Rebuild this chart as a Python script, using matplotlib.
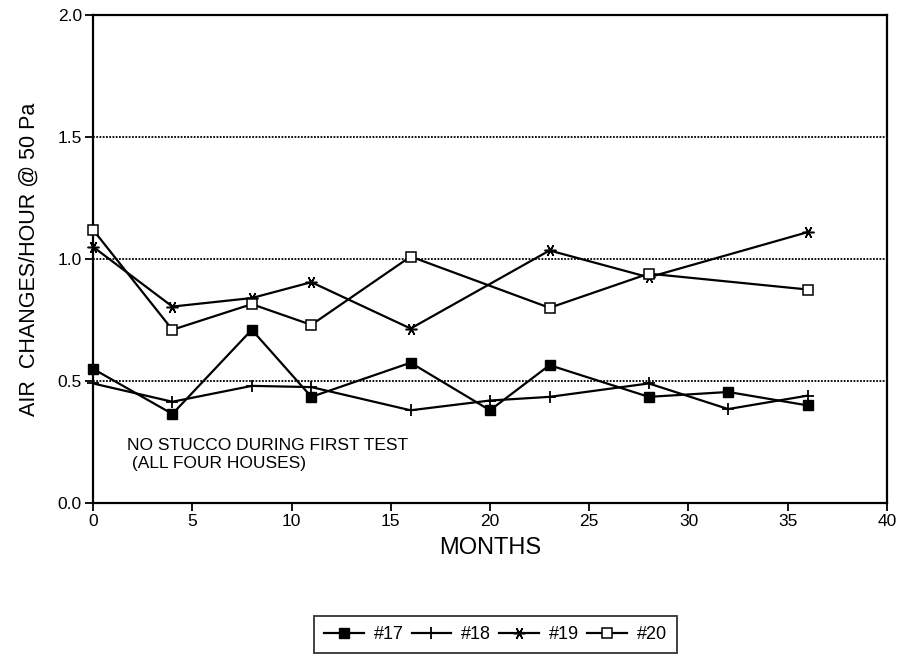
import numpy as np
import matplotlib
matplotlib.use('Agg')
import matplotlib.pyplot as plt

plt.rcParams['font.family'] = ['Liberation Sans', 'DejaVu Sans']

# Blower-door results, air changes per hour at 50 Pa, by house
months_17 = [0, 4, 8, 11, 16, 20, 23, 28, 32, 36]
ach_17 = [0.55, 0.365, 0.71, 0.435, 0.575, 0.38, 0.565, 0.435, 0.455, 0.40]

months_18 = [0, 4, 8, 11, 16, 20, 23, 28, 32, 36]
ach_18 = [0.49, 0.415, 0.48, 0.475, 0.38, 0.42, 0.435, 0.49, 0.385, 0.44]

months_19 = [0, 4, 8, 11, 16, 23, 28, 36]
ach_19 = [1.05, 0.805, 0.84, 0.905, 0.715, 1.035, 0.925, 1.11]

months_20 = [0, 4, 8, 11, 16, 23, 28, 36]
ach_20 = [1.12, 0.71, 0.815, 0.73, 1.01, 0.80, 0.94, 0.875]

labels = ['#17', '#18', '#19', '#20']
y_ticks = [0.0, 0.5, 1.0, 1.5, 2.0]
x_ticks = [0, 5, 10, 15, 20, 25, 30, 35, 40]

fig = plt.figure(figsize=(9.01, 6.56), dpi=100)
ax = fig.add_axes([93 / 901, 1 - 503 / 656, 794 / 901, 488 / 656])

line_kw = dict(color='black', lw=1.6, clip_on=False, zorder=3)
ax.plot(months_17, ach_17, marker='s', ms=7, mfc='black', mec='black',
        label=labels[0], **line_kw)
ax.plot(months_18, ach_18, marker='+', ms=8, mew=1.3, mec='black',
        label=labels[1], **line_kw)
ax.plot(months_19, ach_19, marker=(6, 2, 30), ms=8.5, mew=1.1, mec='black',
        label=labels[2], **line_kw)
ax.plot(months_20, ach_20, marker='s', ms=6.5, mfc='white', mec='black',
        mew=1.1, label=labels[3], **line_kw)

# dotted reference lines
for yv in y_ticks[1:-1]:
    ax.axhline(yv, color='black', lw=1.3, ls=(0, (1, 0.8)), zorder=1)

ax.set_xlim(0, 40)
ax.set_ylim(0, 2.0)
ax.set_xticks(x_ticks)
ax.set_yticks(y_ticks)
ax.set_yticklabels([f'{v:.1f}' for v in y_ticks])
ax.tick_params(axis='both', direction='out', length=6, width=1.3,
               labelsize=12.5, colors='black', pad=2)
for s in ax.spines.values():
    s.set_linewidth(1.6)

ax.set_xlabel('MONTHS', fontsize=17, labelpad=6)
ax.set_ylabel('AIR  CHANGES/HOUR @ 50 Pa', fontsize=15.5, labelpad=13)

ax.text(1.7, 0.265, 'NO STUCCO DURING FIRST TEST\n (ALL FOUR HOUSES)',
        fontsize=12.5, va='top', ha='left', linespacing=1.2)

leg = fig.legend(loc='upper left', bbox_to_anchor=(314 / 901, 1 - 616 / 656),
                 ncol=4, fontsize=13, frameon=True, fancybox=False,
                 handlelength=2.2, handletextpad=0.55, columnspacing=0.45,
                 borderpad=0.55, borderaxespad=0)
leg.get_frame().set_edgecolor('black')
leg.get_frame().set_linewidth(1.3)

fig.savefig('out.png', dpi=100)
